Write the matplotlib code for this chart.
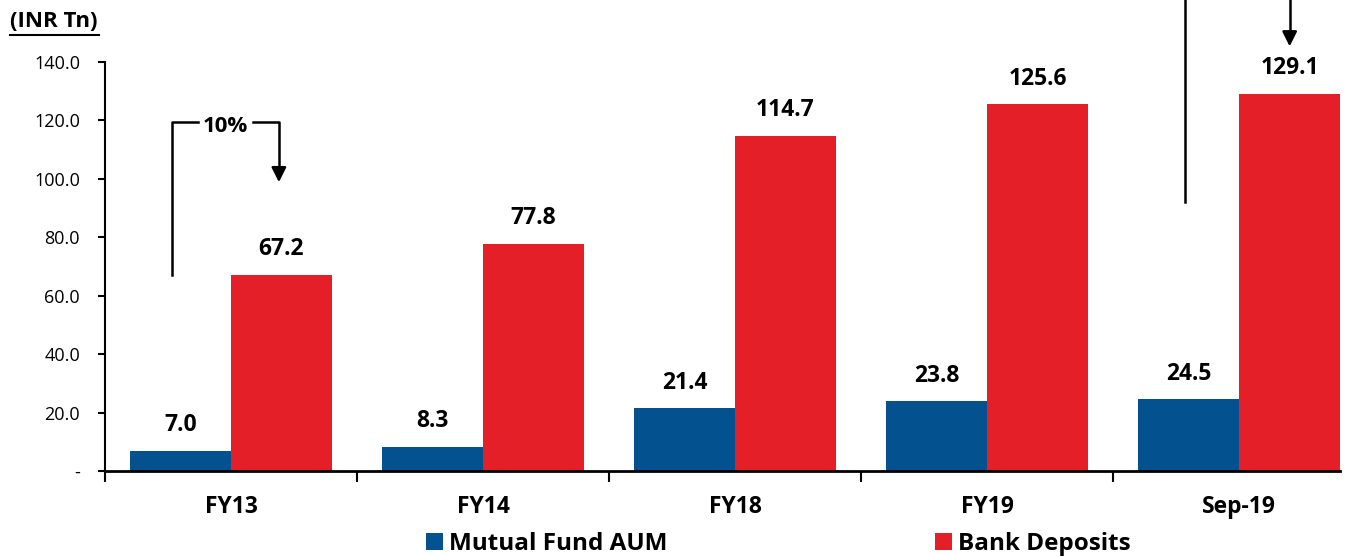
import numpy as np
import matplotlib.pyplot as plt
from matplotlib.lines import Line2D

categories = ["FY13", "FY14", "FY18", "FY19", "Sep-19"]
mf_aum = [7.0, 8.3, 21.4, 23.8, 24.5]
bank_deposits = [67.2, 77.8, 114.7, 125.6, 129.1]
yticks = [0, 20, 40, 60, 80, 100, 120, 140]

blue = "#04518f"
red = "#e41f27"
font = "Open Sans"

fig = plt.figure(figsize=(13.51, 5.56), dpi=100)
ax = fig.add_axes([0.0777, 0.1529, 0.9142, 0.7356])

x = np.arange(len(categories))
w = 0.4
b1 = ax.bar(x - w / 2, mf_aum, w, color=blue, label="Mutual Fund AUM")
b2 = ax.bar(x + w / 2, bank_deposits, w, color=red, label="Bank Deposits")

for bars, vals in [(b1, mf_aum), (b2, bank_deposits)]:
    for r, v in zip(bars, vals):
        ax.annotate(f"{v:.1f}", (r.get_x() + r.get_width() / 2, v),
                    xytext=(0, 14), textcoords="offset points",
                    ha="center", va="baseline", fontsize=16.5,
                    fontweight="bold", family=font)

ax.set_xlim(-0.5, 4.4)
ax.set_ylim(0, 140)
ax.set_yticks(yticks)
ax.set_yticklabels(["-" if t == 0 else f"{t:.1f}" for t in yticks],
                   fontsize=13, family=font)
ax.set_xticks(x)
ax.set_xticklabels(categories, fontsize=16.5, fontweight="bold", family=font)
ax.tick_params(axis="x", length=0, pad=17)
ax.set_xticks(np.arange(-0.5, 4.0, 1.0), minor=True)
ax.tick_params(axis="x", which="minor", length=8, width=1.5, direction="out")
ax.tick_params(axis="y", length=5, width=1.5, direction="out", pad=13)

for s in ["top", "right"]:
    ax.spines[s].set_visible(False)
ax.spines["left"].set_linewidth(1.5)
ax.spines["bottom"].set_linewidth(2)

# CAGR brackets
ax.plot([-0.234, -0.234, -0.131], [67.1, 119.5, 119.5], color="black", lw=1.8,
        clip_on=False)
ax.plot([0.087, 0.19, 0.19], [119.5, 119.5, 104], color="black", lw=1.8,
        clip_on=False)
ax.annotate("", xy=(0.19, 97.9), xytext=(0.19, 104.5),
            arrowprops=dict(arrowstyle="-|>", color="black", lw=1.8,
                            mutation_scale=22), annotation_clip=False)
ax.text(-0.024, 118, "10%", ha="center", va="center", fontsize=16,
        fontweight="bold", family=font)

ax.plot([3.786, 3.786], [92.1, 165], color="black", lw=1.8, clip_on=False)
ax.plot([4.2, 4.2], [150, 165], color="black", lw=1.8, clip_on=False)
ax.annotate("", xy=(4.2, 144.4), xytext=(4.2, 151),
            arrowprops=dict(arrowstyle="-|>", color="black", lw=1.8,
                            mutation_scale=22), annotation_clip=False)

# unit label, underlined
fig.text(0.0074, 0.962, "(INR Tn)", fontsize=16, fontweight="bold",
         family=font, va="center")
fig.add_artist(Line2D([0.0074, 0.0733], [0.937, 0.937], color="black", lw=1.5))

ax.legend(loc="center", bbox_to_anchor=(0.545, -0.178), ncol=2, frameon=False,
          prop=dict(family=font, size=17.5, weight="bold"), handlelength=0.7,
          handleheight=0.7, handletextpad=0.25, columnspacing=11)

fig.savefig("out.png", dpi=100)
